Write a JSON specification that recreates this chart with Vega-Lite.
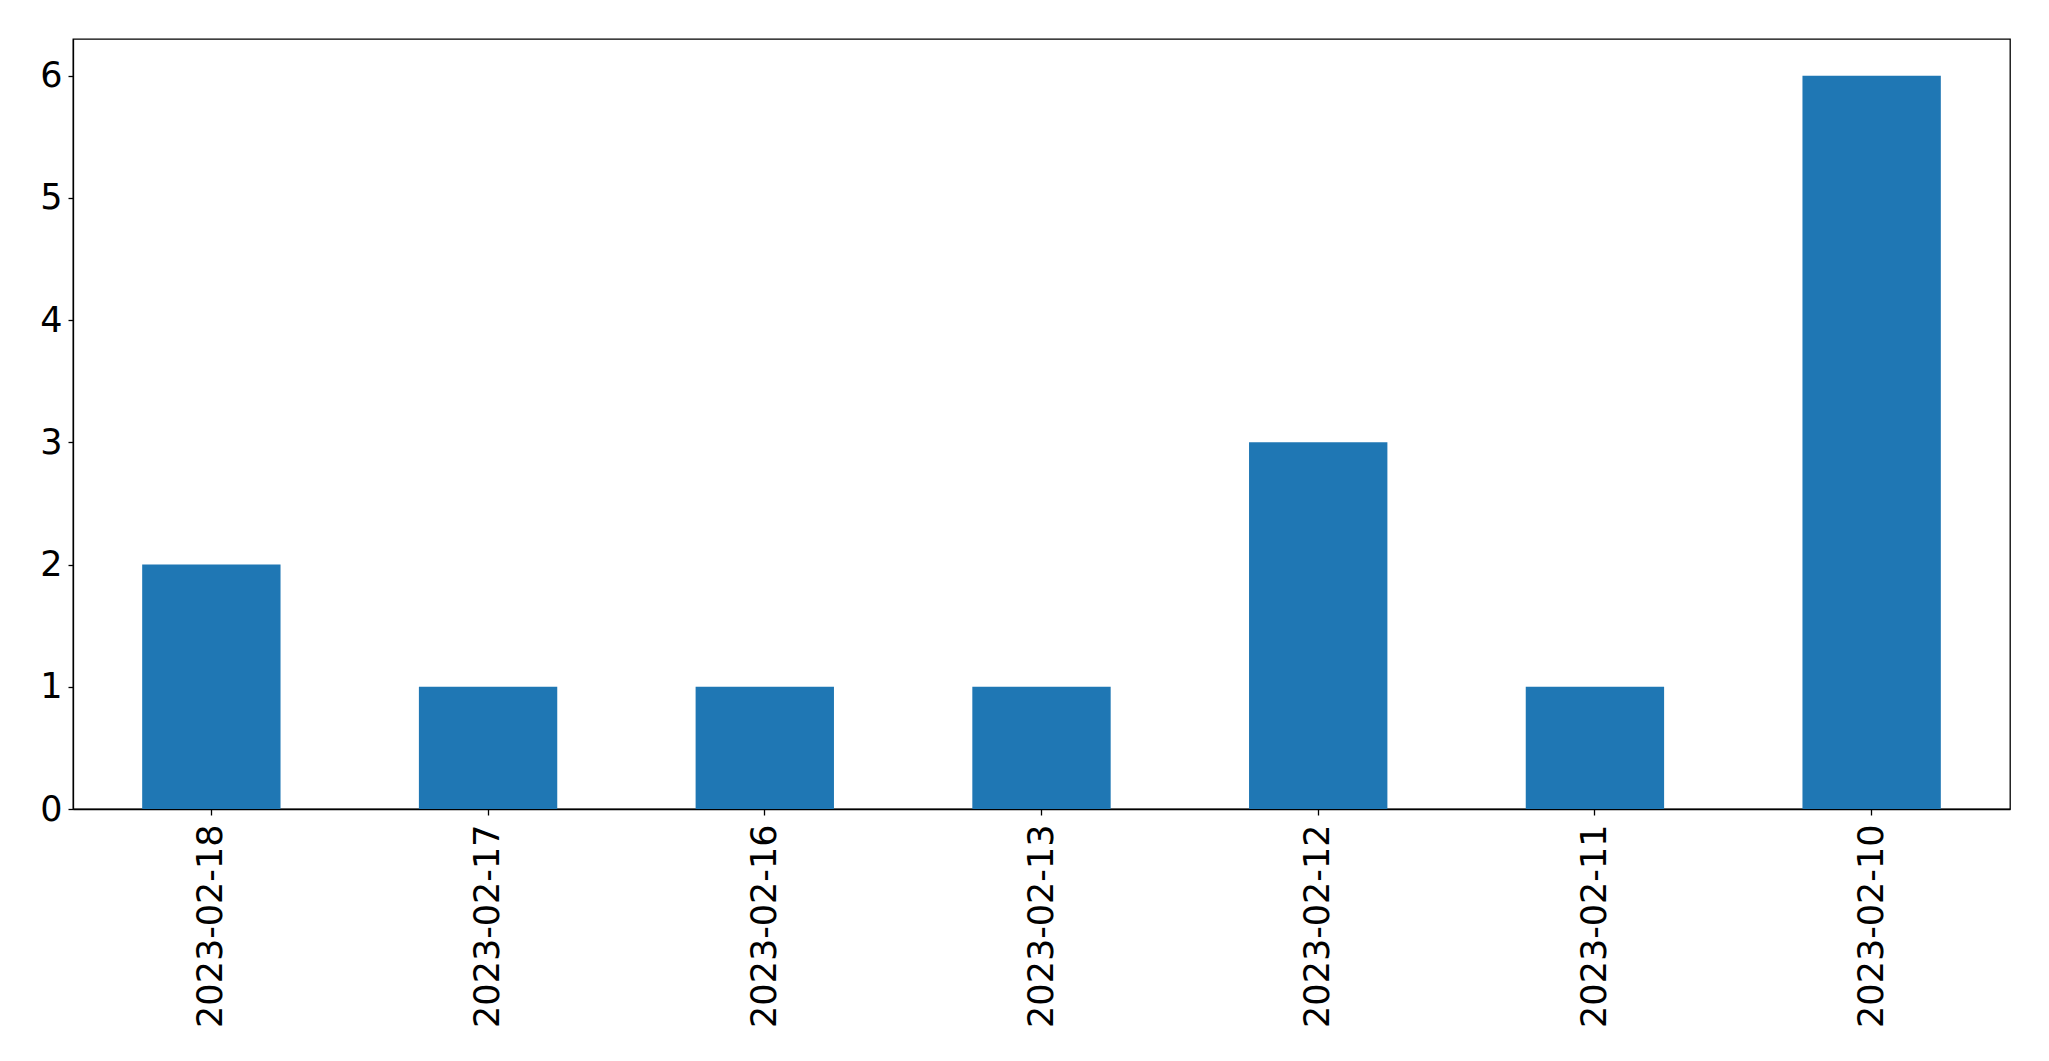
{
  "$schema": "https://vega.github.io/schema/vega-lite/v6.json",
  "autosize": {"type": "none"},
  "width": 1937,
  "height": 770,
  "padding": {"left": 73, "top": 39, "right": 39, "bottom": 252},
  "background": "white",
  "config": {
    "view": {"stroke": "black", "strokeWidth": 1.3},
    "font": "DejaVu Sans"
  },
  "data": {
    "values": [
      {"date": "2023-02-18", "count": 2},
      {"date": "2023-02-17", "count": 1},
      {"date": "2023-02-16", "count": 1},
      {"date": "2023-02-13", "count": 1},
      {"date": "2023-02-12", "count": 3},
      {"date": "2023-02-11", "count": 1},
      {"date": "2023-02-10", "count": 6}
    ]
  },
  "mark": {"type": "bar", "color": "#1f77b4"},
  "encoding": {
    "x": {
      "field": "date",
      "type": "nominal",
      "sort": null,
      "scale": {"paddingInner": 0.5, "paddingOuter": 0.25},
      "axis": {
        "title": null,
        "labelAngle": 270,
        "labelAlign": "right",
        "labelBaseline": "middle",
        "labelFont": "DejaVu Sans",
        "labelFontSize": 35,
        "labelLimit": 0,
        "labelColor": "black",
        "labelPadding": 9,
        "tickColor": "black",
        "tickSize": 6,
        "tickWidth": 1.3,
        "domainColor": "black",
        "domainWidth": 1.3,
        "grid": false
      }
    },
    "y": {
      "field": "count",
      "type": "quantitative",
      "scale": {"domain": [0, 6.3], "nice": false, "zero": true},
      "axis": {
        "title": null,
        "values": [0, 1, 2, 3, 4, 5, 6],
        "format": "d",
        "labelFont": "DejaVu Sans",
        "labelFontSize": 35,
        "labelColor": "black",
        "labelPadding": 6,
        "tickColor": "black",
        "tickSize": 5,
        "tickWidth": 1.3,
        "domainColor": "black",
        "domainWidth": 1.3,
        "grid": false
      }
    }
  }
}
